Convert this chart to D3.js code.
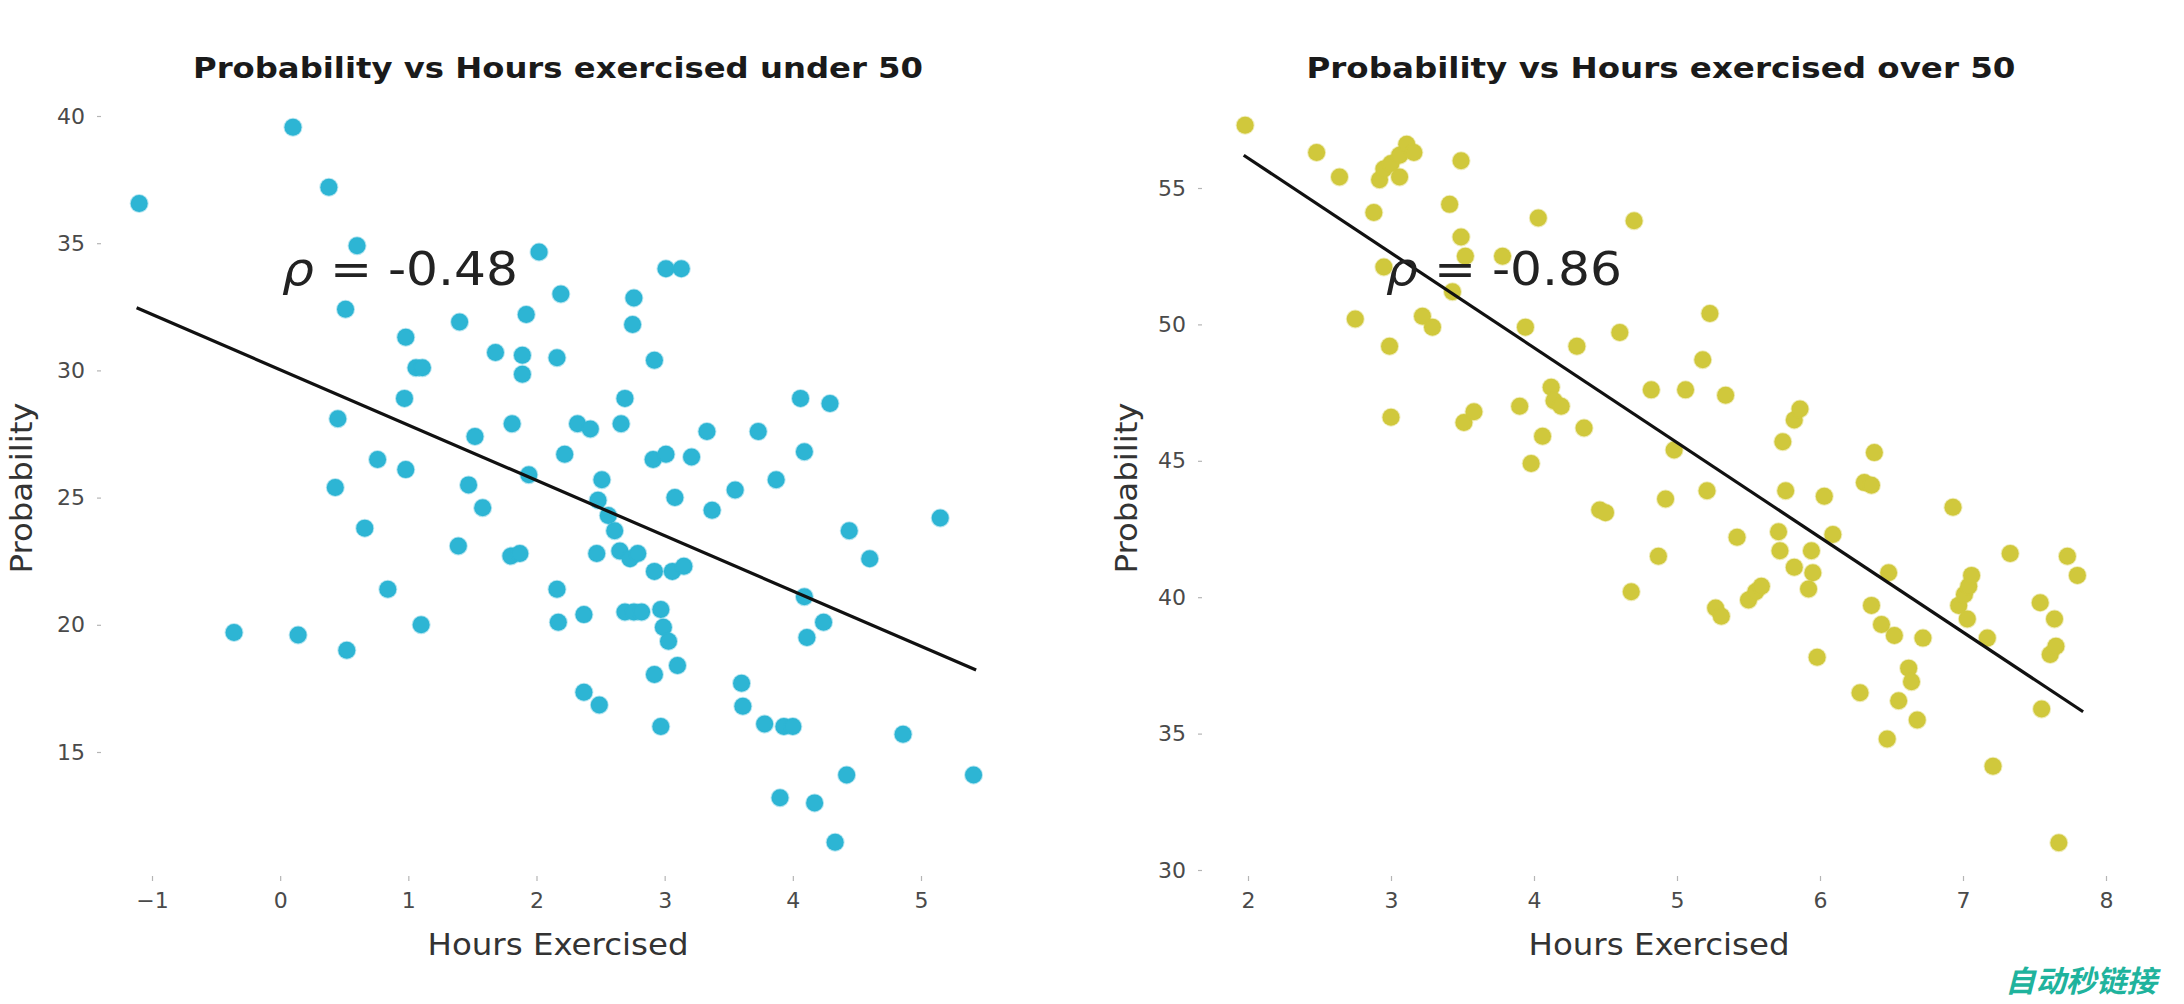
<!DOCTYPE html>
<html>
<head>
<meta charset="utf-8">
<script src="https://cdn.jsdelivr.net/npm/d3@7"></script>
<style>
  html, body { margin: 0; padding: 0; background: #ffffff; }
  svg { display: block; }
</style>
</head>
<body>
<svg id="chart" width="2184" height="1004"></svg>
<script>
// ---------------- DATA ----------------
const underHours = [-1.10,0.10,0.38,0.60,0.51,0.45,0.43,0.66,0.76,0.84,0.52,0.14,-0.36,1.10,0.98,0.97,1.06,1.11,0.98,1.40,1.52,1.47,1.58,1.39,1.68,1.89,1.81,1.89,1.92,2.02,2.19,2.16,1.94,1.80,1.87,2.16,2.17,2.22,2.32,2.42,2.47,2.37,2.37,2.49,2.48,2.51,2.56,2.61,2.65,2.73,2.79,2.66,2.69,2.75,2.76,2.69,2.76,2.82,2.92,2.92,2.97,2.99,3.03,2.92,3.10,2.97,2.91,3.01,3.06,3.15,3.01,3.13,3.08,3.21,3.33,3.37,3.55,3.73,3.87,4.06,4.09,4.29,3.60,3.61,3.78,3.93,4.00,4.09,4.11,4.24,3.90,4.17,4.33,4.42,4.44,4.60,4.86,5.15,5.41];
const underProb  = [36.56,39.56,37.2,34.9,32.4,28.1,25.4,23.8,26.5,21.4,19.0,19.6,19.7,20.0,31.3,28.9,30.1,30.1,26.1,31.9,27.4,25.5,24.6,23.1,30.7,30.6,27.9,29.85,32.2,34.65,33.0,30.5,25.9,22.7,22.8,21.4,20.1,26.7,27.9,27.7,22.8,20.4,17.35,16.85,24.9,25.7,24.3,23.7,22.9,22.6,22.8,27.9,28.9,31.8,32.85,20.5,20.5,20.5,30.4,22.1,20.6,19.9,19.35,18.05,18.4,16.0,26.5,26.7,22.1,22.3,34.0,34.0,25.0,26.6,27.6,24.5,25.3,27.6,25.7,28.9,26.8,28.7,17.7,16.8,16.1,16.0,16.0,21.1,19.5,20.1,13.2,13.0,11.45,14.1,23.7,22.6,15.7,24.2,14.1];

const overHours = [1.98,2.48,2.64,2.75,2.88,2.92,2.95,3.00,3.06,3.11,3.16,3.06,2.95,2.99,3.00,3.22,3.29,3.41,3.49,3.49,3.43,3.52,3.51,3.58,3.78,3.90,3.98,4.03,3.94,4.06,4.12,4.14,4.19,4.30,4.35,4.46,4.50,4.60,4.70,4.68,4.82,4.87,4.92,4.98,5.06,5.18,5.23,5.21,5.27,5.31,5.34,5.42,5.50,5.55,5.59,5.71,5.72,5.74,5.76,5.82,5.86,5.82,5.92,5.95,5.94,5.98,6.03,6.09,6.28,6.31,6.38,6.36,6.36,6.43,6.47,6.48,6.52,6.55,6.62,6.64,6.68,6.72,6.93,6.97,7.01,7.04,7.03,7.06,7.17,7.21,7.33,7.54,7.55,7.61,7.65,7.67,7.73,7.80,7.64];
const overProb  = [57.3,56.3,55.4,50.2,54.1,55.3,55.7,55.9,56.2,56.6,56.3,55.4,52.1,49.2,46.6,50.3,49.9,54.4,56.0,53.2,51.2,52.5,46.4,46.8,52.5,47.0,44.9,53.9,49.9,45.9,47.7,47.2,47.0,49.2,46.2,43.2,43.1,49.7,53.8,40.2,47.6,41.5,43.6,45.4,47.6,48.7,50.4,43.9,39.6,39.3,47.4,42.2,39.9,40.2,40.4,42.4,41.7,45.7,43.9,46.5,46.9,41.1,40.3,40.9,41.7,37.8,43.7,42.3,36.5,44.2,45.3,44.1,39.7,39.0,34.8,40.9,38.6,36.2,37.4,36.9,35.5,38.5,43.3,39.7,40.1,40.4,39.2,40.8,38.5,33.8,41.6,39.8,35.9,37.9,38.2,31.0,41.5,40.8,39.2];

// regression line end points [x0, x1] / [y0, y1]
const underFitHours = [-1.12, 5.43];
const underFitProb  = [32.46, 18.22];
const overFitHours  = [1.97, 7.84];
const overFitProb   = [56.2, 35.8];

// tick labels
const underXTicks = [-1, 0, 1, 2, 3, 4, 5];
const underYTicks = [15, 20, 25, 30, 35, 40];
const overXTicks  = [2, 3, 4, 5, 6, 7, 8];
const overYTicks  = [30, 35, 40, 45, 50, 55];

const titles = ["Probability vs Hours exercised under 50", "Probability vs Hours exercised over 50"];
const rhoSymbol = "\u03C1";
const rhoValues = [" = -0.48", " = -0.86"];
const xLabel = "Hours Exercised";
const yLabel = "Probability";
const watermark = "自动秒链接";

// ---------------- DRAW ----------------
const svg = d3.select("#chart");
svg.append("rect").attr("width", 2184).attr("height", 1004).attr("fill", "#ffffff");

const FONT = "'DejaVu Sans', 'Liberation Sans', sans-serif";

const panels = [
  {
    hours: underHours, prob: underProb, fitH: underFitHours, fitP: underFitProb,
    xTicks: underXTicks, yTicks: underYTicks,
    x: d3.scaleLinear().domain([-1, 5]).range([152, 921]),
    y: d3.scaleLinear().domain([15, 40]).range([752, 116]),
    color: "#2db5d4",
    yAxisX: 101, xAxisY: 876,
    title: titles[0], titleX: 558, titleLen: 730,
    rho: rhoValues[0], rhoX: 282, rhoLen: 236,
    xLabelX: 558, yLabelX: 21
  },
  {
    hours: overHours, prob: overProb, fitH: overFitHours, fitP: overFitProb,
    xTicks: overXTicks, yTicks: overYTicks,
    x: d3.scaleLinear().domain([2, 8]).range([1248, 2106]),
    y: d3.scaleLinear().domain([30, 55]).range([870, 188]),
    color: "#d0c83c",
    yAxisX: 1202, xAxisY: 876,
    title: titles[1], titleX: 1661, titleLen: 709,
    rho: rhoValues[1], rhoX: 1386, rhoLen: 236,
    xLabelX: 1659, yLabelX: 1126
  }
];

panels.forEach(p => {
  const g = svg.append("g");

  // title
  g.append("text")
    .attr("x", p.titleX).attr("y", 78)
    .attr("text-anchor", "middle")
    .attr("font-family", FONT).attr("font-weight", "bold")
    .attr("font-size", 29)
    .attr("textLength", p.titleLen).attr("lengthAdjust", "spacingAndGlyphs")
    .attr("fill", "#1a1a1a")
    .text(p.title);

  // x axis
  const xAxis = d3.axisBottom(p.x).tickValues(p.xTicks).tickSize(5).tickPadding(11)
    .tickFormat(d => d < 0 ? "\u2212" + Math.abs(d) : String(d));
  const gx = g.append("g").attr("transform", `translate(0,${p.xAxisY})`).call(xAxis);
  gx.select(".domain").remove();
  gx.selectAll(".tick line").attr("stroke", "#b5b5b5").attr("stroke-width", 1.2);
  gx.selectAll(".tick text").attr("font-family", FONT).attr("font-size", 22).attr("fill", "#4a4a4a");

  // y axis
  const yAxis = d3.axisLeft(p.y).tickValues(p.yTicks).tickSize(4).tickPadding(12);
  const gy = g.append("g").attr("transform", `translate(${p.yAxisX},0)`).call(yAxis);
  gy.select(".domain").remove();
  gy.selectAll(".tick line").attr("stroke", "#b5b5b5").attr("stroke-width", 1.2);
  gy.selectAll(".tick text").attr("font-family", FONT).attr("font-size", 22).attr("fill", "#4a4a4a");

  // axis labels
  g.append("text")
    .attr("x", p.xLabelX).attr("y", 955)
    .attr("text-anchor", "middle")
    .attr("font-family", FONT).attr("font-size", 30)
    .attr("textLength", 261).attr("lengthAdjust", "spacingAndGlyphs")
    .attr("fill", "#333")
    .text(xLabel);

  g.append("text")
    .attr("transform", `translate(${p.yLabelX},488) rotate(-90)`)
    .attr("text-anchor", "middle").attr("dy", "0.35em")
    .attr("font-family", FONT).attr("font-size", 30)
    .attr("textLength", 171).attr("lengthAdjust", "spacingAndGlyphs")
    .attr("fill", "#333")
    .text(yLabel);

  // points
  const pts = p.hours.map((h, i) => ({ h: h, v: p.prob[i] }));
  g.append("g").selectAll("circle").data(pts).join("circle")
    .attr("cx", d => p.x(d.h)).attr("cy", d => p.y(d.v))
    .attr("r", 8.5)
    .attr("fill", p.color)
    .attr("stroke", p.color).attr("stroke-opacity", 0.35).attr("stroke-width", 2);

  // regression line
  const fit = p.fitH.map((h, i) => [h, p.fitP[i]]);
  g.append("path")
    .datum(fit)
    .attr("d", d3.line().x(d => p.x(d[0])).y(d => p.y(d[1])))
    .attr("stroke", "#111").attr("stroke-width", 3.2).attr("fill", "none");

  // rho annotation (italic rho like matplotlib mathtext)
  const t = g.append("text")
    .attr("x", p.rhoX).attr("y", 285)
    .attr("font-family", FONT).attr("font-size", 47)
    .attr("textLength", p.rhoLen).attr("lengthAdjust", "spacingAndGlyphs")
    .attr("fill", "#222");
  t.append("tspan").attr("font-style", "italic").text(rhoSymbol);
  t.append("tspan").text(p.rho);
});

// watermark
svg.append("text")
  .attr("x", 2005).attr("y", 992)
  .attr("font-family", "'Noto Sans CJK SC', sans-serif")
  .attr("font-weight", "bold").attr("font-style", "italic")
  .attr("font-size", 30)
  .attr("textLength", 152).attr("lengthAdjust", "spacingAndGlyphs")
  .attr("fill", "#1fb39d")
  .text(watermark);
</script>
</body>
</html>
